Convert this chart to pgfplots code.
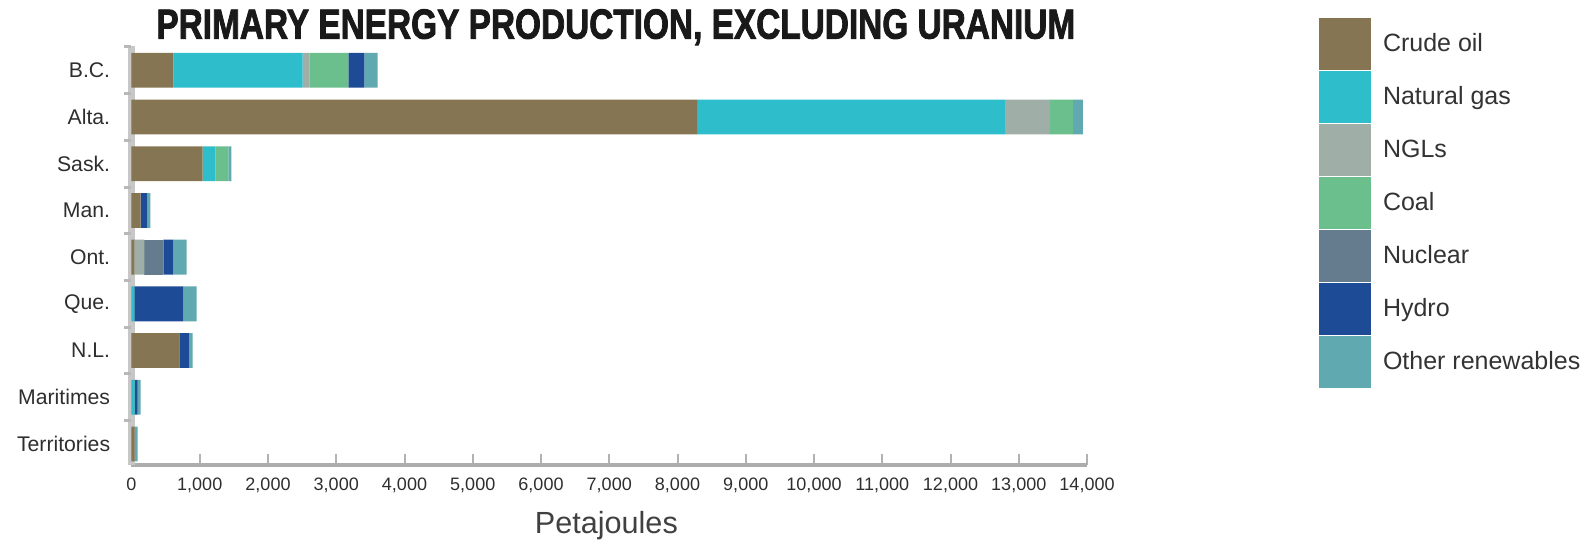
\documentclass[border=0pt]{standalone}
\usepackage{graphicx}
\usepackage{pgfplots}
\pgfplotsset{compat=1.18}
\usepackage{pgfplotstable}
\usepackage{fontspec}
\setmainfont{Liberation Sans}
\newfontfamily\titlefont[FakeBold=2.2]{Liberation Sans Bold}

\definecolor{crude}{HTML}{857553}
\definecolor{gas}{HTML}{2EBDCA}
\definecolor{ngl}{HTML}{A0AEA8}
\definecolor{coal}{HTML}{6ABF8C}
\definecolor{nuclear}{HTML}{657B8E}
\definecolor{hydro}{HTML}{1E4B96}
\definecolor{other}{HTML}{61A9B1}

\pgfplotstableread{
idx crude gas ngl coal nuclear hydro other
0 613 1895 100 570 0 235 195
1 8287 4510 658 337 0 0 146
2 1041 189 0 188 0 0 47
3 132 0 0 0 0 102 44
4 42 0 147 0 277 147 194
5 0 42 0 0 0 717 194
6 702 0 0 0 0 147 47
7 0 44 0 0 0 44 44
8 44 0 0 0 0 0 44
}\datatable

\begin{document}
\begin{tikzpicture}
\begin{axis}[
  at={(65.75pt,37.5pt)}, anchor=south west,
  scale only axis, width=477.75pt, height=209.5pt,
  xbar stacked, bar width=0.745,
  y dir=reverse, ymin=-0.52, ymax=8.45,
  xmin=0, xmax=14000,
  scaled x ticks=false,
  ytick={0,...,8},
  yticklabels={B.C.,Alta.,Sask.,Man.,Ont.,Que.,N.L.,Maritimes,Territories},
  xtick={0,1000,...,14000},
  xticklabels={0,{1,000},{2,000},{3,000},{4,000},{5,000},{6,000},{7,000},{8,000},{9,000},{10,000},{11,000},{12,000},{13,000},{14,000}},
  axis x line*=bottom, axis y line*=left,
  x axis line style={draw=black!32, line width=2pt, -},
  y axis line style={draw=black!22, line width=3pt, -},
  tick align=inside, major tick length=5.5pt,
  xtick style={draw=black!30, line width=1pt},
  ytick style={draw=none},
  extra y ticks={-0.5,0.5,1.5,2.5,3.5,4.5,5.5,6.5,7.5},
  extra y tick labels={},
  extra y tick style={tick align=outside, major tick length=3.5pt, ytick style={draw=black!28, line width=1.5pt}},
  yticklabel style={font=\fontsize{10.6}{12}\selectfont, text=black!82, inner sep=0pt, xshift=-10.5pt},
  xticklabel style={font=\fontsize{9}{10}\selectfont, text=black!82, inner sep=0pt, yshift=-6.5pt},
  xlabel={Petajoules},
  xlabel style={at={(axis description cs:0.497,0)}, anchor=base, yshift=-34.3pt, font=\fontsize{15.3}{17}\selectfont, text=black!75, inner sep=0pt},
  title={\scalebox{0.795}[1]{\titlefont\fontsize{21}{24}\selectfont PRIMARY ENERGY PRODUCTION, EXCLUDING URANIUM}},
  title style={at={(axis description cs:0.5069,1)}, anchor=base, yshift=-2.3pt, text=black!90, inner sep=0pt},
  legend style={at={(1.2428,1.0668)}, anchor=north west, draw=none, fill=none, inner sep=0pt, outer sep=0pt, row sep=0.5pt, column sep=6pt, font=\fontsize{12.5}{14}\selectfont, text=black!80, nodes={inner sep=0pt}},
  legend cell align=left,
  legend image code/.code={\fill[#1] (0pt,-13pt) rectangle (26pt,13pt);},
]
\addplot[fill=crude, draw=none] table[x=crude, y=idx] {\datatable};
\addplot[fill=gas, draw=none] table[x=gas, y=idx] {\datatable};
\addplot[fill=ngl, draw=none] table[x=ngl, y=idx] {\datatable};
\addplot[fill=coal, draw=none] table[x=coal, y=idx] {\datatable};
\addplot[fill=nuclear, draw=none] table[x=nuclear, y=idx] {\datatable};
\addplot[fill=hydro, draw=none] table[x=hydro, y=idx] {\datatable};
\addplot[fill=other, draw=none] table[x=other, y=idx] {\datatable};
\legend{Crude oil, Natural gas, NGLs, Coal, Nuclear, Hydro, Other renewables}
\end{axis}
\pgfresetboundingbox
\path[use as bounding box] (0,0) rectangle (796.5pt,270pt);
\end{tikzpicture}
\end{document}
